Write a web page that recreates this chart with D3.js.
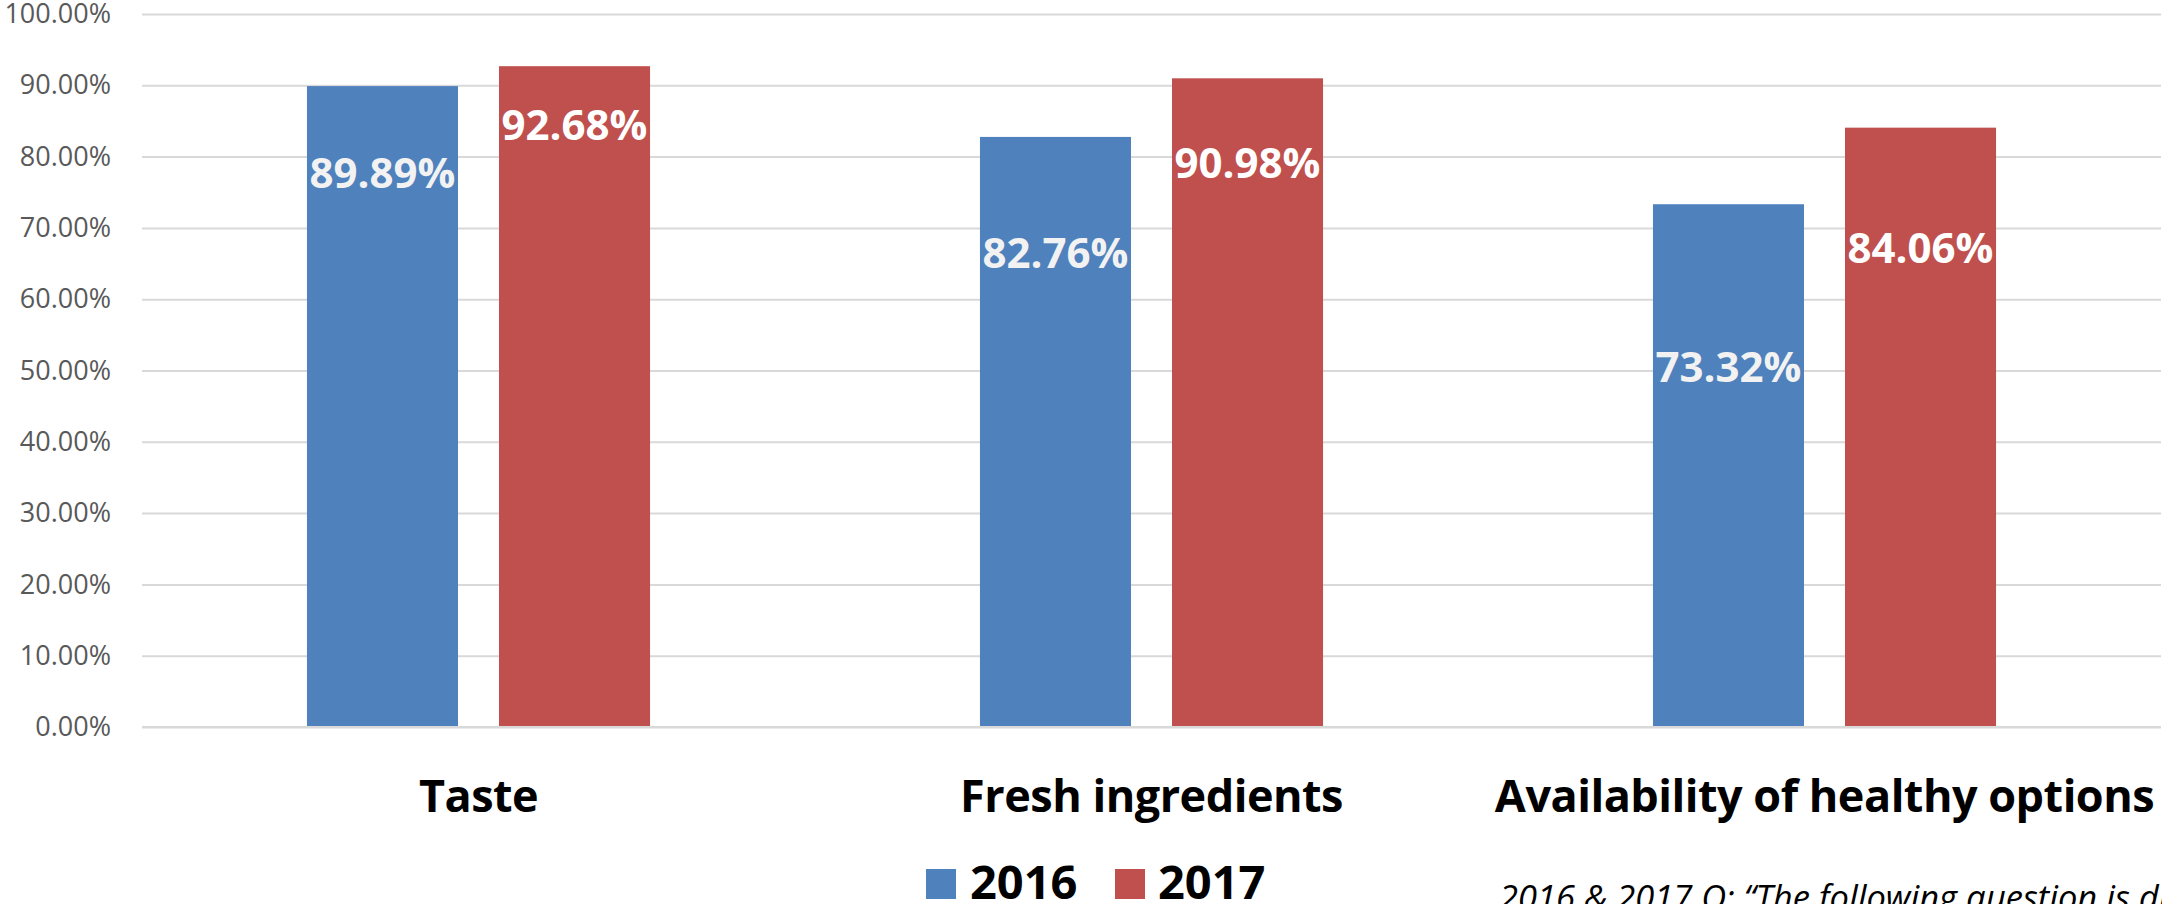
<!DOCTYPE html>
<html>
<head>
<meta charset="utf-8">
<script src="https://cdn.jsdelivr.net/npm/d3@7"></script>
<style>
  html, body { margin: 0; padding: 0; background: #fff; overflow: hidden; }
  svg { display: block; }
</style>
</head>
<body>
<svg id="chart" width="2162" height="904"></svg>
<script>
// ---- data ----
const categories = ["Taste", "Fresh ingredients", "Availability of healthy options"];
const seriesNames = ["2016", "2017"];
const values2016 = [89.89, 82.76, 73.32];
const values2017 = [92.68, 90.98, 84.06];
const yTicks = [0, 10, 20, 30, 40, 50, 60, 70, 80, 90, 100];
const footnote = "2016 & 2017 Q: \u201CThe following question is directed to all respondents";

// ---- layout ----
const W = 2162, H = 904;
const plotLeft = 142, plotRight = 2161, plotTop = 14, plotBottom = 727;
const colors = { "2016": "#4f81bd", "2017": "#c0504d" };
const labelColors = { "2016": "#f2f2f2", "2017": "#ffffff" };
// vertical anchor (in value units) of each data label, as placed in the original
const labelAnchors = { "2016": [77.7, 66.5, 50.5], "2017": [84.4, 79.1, 67.2] };

const svg = d3.select("#chart");

const y = d3.scaleLinear().domain([0, 100]).range([plotBottom, plotTop]);
const x0 = d3.scaleBand().domain(categories).range([plotLeft, plotRight]).padding(0);
const x1 = d3.scaleBand().domain(seriesNames).range([0, x0.bandwidth()])
  .paddingInner(0.2135).paddingOuter(0.859);

const rows = categories.map((c, i) => ({
  cat: c,
  vals: [
    { s: "2016", v: values2016[i], a: labelAnchors["2016"][i] },
    { s: "2017", v: values2017[i], a: labelAnchors["2017"][i] }
  ]
}));

// gridlines + y axis labels
const yAxis = d3.axisLeft(y).tickValues(yTicks)
  .tickFormat(d => d3.format(".2f")(d) + "%")
  .tickSize(-(plotRight - plotLeft)).tickPadding(31);
const gy = svg.append("g").attr("transform", `translate(${plotLeft},0)`).call(yAxis);
gy.select(".domain").remove();
gy.selectAll(".tick line").attr("stroke", "#d9d9d9").attr("stroke-width", 2);
gy.selectAll(".tick text")
  .attr("fill", "#595959")
  .style("font-family", "'Open Sans', sans-serif")
  .style("font-size", "27px");

// bars
const groups = svg.append("g").selectAll("g").data(rows).join("g")
  .attr("transform", d => `translate(${x0(d.cat)},0)`);

groups.selectAll("rect").data(d => d.vals).join("rect")
  .attr("x", d => x1(d.s))
  .attr("width", x1.bandwidth())
  .attr("y", d => y(d.v))
  .attr("height", d => y(0) - y(d.v))
  .attr("fill", d => colors[d.s]);

// data labels
groups.selectAll("text").data(d => d.vals).join("text")
  .attr("x", d => x1(d.s) + x1.bandwidth() / 2)
  .attr("y", d => y(d.a))
  .attr("dy", "0.36em")
  .attr("text-anchor", "middle")
  .attr("fill", d => labelColors[d.s])
  .style("font-family", "'Open Sans', sans-serif")
  .style("font-weight", "700")
  .style("font-size", "42px")
  .text(d => d3.format(".2f")(d.v) + "%");

// x axis baseline
svg.append("line")
  .attr("x1", plotLeft).attr("x2", plotRight)
  .attr("y1", plotBottom).attr("y2", plotBottom)
  .attr("stroke", "#d9d9d9").attr("stroke-width", 2);

// category labels
const xAxis = d3.axisBottom(x0).tickSize(0).tickPadding(0);
const gx = svg.append("g").attr("transform", `translate(0,${plotBottom})`).call(xAxis);
gx.select(".domain").remove();
gx.selectAll(".tick text")
  .attr("y", 85)
  .attr("dy", 0)
  .attr("fill", "#000")
  .style("font-family", "'Open Sans', sans-serif")
  .style("font-weight", "700")
  .style("font-size", "45px")
  .style("letter-spacing", "-0.5px");

// legend
const legendItems = [
  { s: "2016", sx: 926, tx: 970 },
  { s: "2017", sx: 1115, tx: 1158 }
];
const lg = svg.append("g");
lg.selectAll("rect").data(legendItems).join("rect")
  .attr("x", d => d.sx).attr("y", 869).attr("width", 30).attr("height", 30)
  .attr("fill", d => colors[d.s]);
lg.selectAll("text").data(legendItems).join("text")
  .attr("x", d => d.tx).attr("y", 899)
  .attr("fill", "#000")
  .style("font-family", "'Open Sans', sans-serif")
  .style("font-weight", "700")
  .style("font-size", "47px")
  .text(d => d.s);

// footnote (cut off by the frame, as in the original)
svg.append("text")
  .attr("x", 1499).attr("y", 910)
  .attr("fill", "#000")
  .style("font-family", "'Open Sans', sans-serif")
  .style("font-style", "italic")
  .style("font-size", "34.5px")
  .text(footnote);
</script>
</body>
</html>
